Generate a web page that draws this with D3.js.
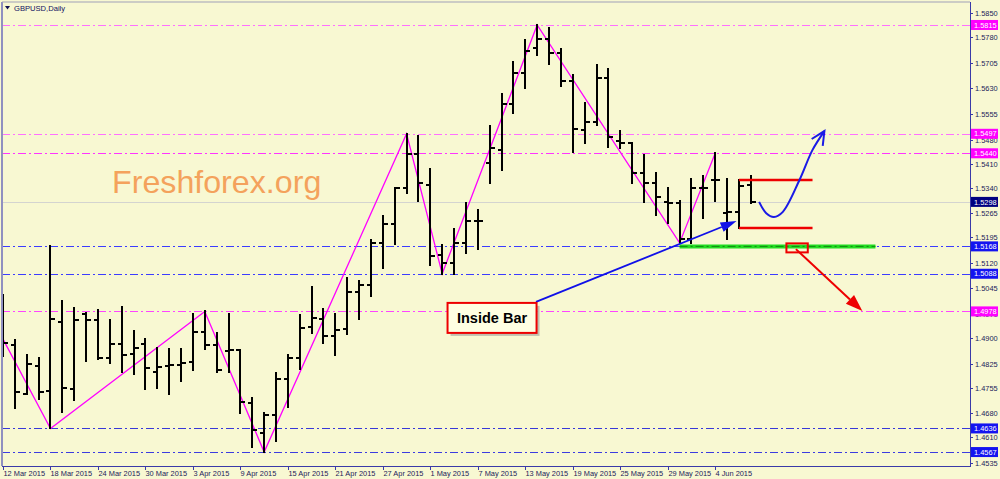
<!DOCTYPE html>
<html><head><meta charset="utf-8">
<script src="https://cdn.jsdelivr.net/npm/d3@7"></script>
<style>body{margin:0;background:#F8F8D2;} svg{display:block}</style>
</head><body><svg id="c" width="1000" height="479"></svg>
<script>
const symbolTitle = "GBPUSD,Daily";
const dates = ["2015-03-12","2015-03-13","2015-03-16","2015-03-17","2015-03-18","2015-03-19","2015-03-20","2015-03-23","2015-03-24","2015-03-25","2015-03-26","2015-03-27","2015-03-30","2015-03-31",
"2015-04-01","2015-04-02","2015-04-03","2015-04-06","2015-04-07","2015-04-08","2015-04-09","2015-04-10","2015-04-13","2015-04-14","2015-04-15","2015-04-16","2015-04-17","2015-04-20","2015-04-21","2015-04-22","2015-04-23","2015-04-24","2015-04-27","2015-04-28","2015-04-29","2015-04-30",
"2015-05-01","2015-05-04","2015-05-05","2015-05-06","2015-05-07","2015-05-08","2015-05-11","2015-05-12","2015-05-13","2015-05-14","2015-05-15","2015-05-18","2015-05-19","2015-05-20","2015-05-21","2015-05-22","2015-05-25","2015-05-26","2015-05-27","2015-05-28","2015-05-29",
"2015-06-01","2015-06-02","2015-06-03","2015-06-04","2015-06-05","2015-06-08","2015-06-09"];
const open  = [1.4930,1.4880,1.4737,1.4818,1.4745,1.4947,1.4751,1.4970,1.4953,1.4842,1.4883,1.4853,1.4883,1.4801,1.4818,1.4821,1.4830,1.4918,1.4880,1.4862,1.4865,1.4710,1.4623,1.4675,1.4780,1.4842,1.4932,1.4956,1.4906,1.4927,1.5035,1.5055,1.5178,1.5233,1.5339,1.5438,1.5347,1.5143,1.5119,1.5178,1.5242,1.5412,1.5450,1.5584,1.5675,1.5748,1.5774,1.5733,1.5651,1.5508,1.5531,1.5660,1.5476,1.5470,1.5382,1.5353,1.5298,1.5295,1.5190,1.5339,1.5362,1.5266,1.5268,1.5347];
const high  = [1.5026,1.4894,1.4851,1.4842,1.5169,1.5008,1.4988,1.4973,1.4982,1.4953,1.4991,1.4921,1.4897,1.4871,1.4868,1.4868,1.4970,1.4978,1.4915,1.4970,1.4865,1.4725,1.4681,1.4798,1.4851,1.4967,1.5049,1.4985,1.4970,1.5076,1.5067,1.5187,1.5257,1.5339,1.5497,1.5491,1.5394,1.5172,1.5219,1.5295,1.5274,1.5520,1.5613,1.5707,1.5771,1.5815,1.5806,1.5745,1.5669,1.5587,1.5698,1.5686,1.5505,1.5470,1.5435,1.5382,1.5339,1.5301,1.5365,1.5374,1.5440,1.5365,1.5362,1.5374];
const low   = [1.4848,1.4696,1.4737,1.4722,1.4636,1.4684,1.4719,1.4833,1.4839,1.4827,1.4801,1.4795,1.4751,1.4754,1.4737,1.4775,1.4807,1.4868,1.4801,1.4801,1.4681,1.4582,1.4567,1.4599,1.4699,1.4810,1.4915,1.4886,1.4851,1.4912,1.4956,1.5023,1.5105,1.5175,1.5324,1.5301,1.5114,1.5088,1.5087,1.5149,1.5160,1.5353,1.5391,1.5558,1.5631,1.5727,1.5701,1.5637,1.5444,1.5470,1.5523,1.5458,1.5455,1.5353,1.5298,1.5260,1.5236,1.5178,1.5178,1.5251,1.5301,1.5190,1.5222,1.5295];
const close = [1.4886,1.4742,1.4824,1.4742,1.4956,1.4754,1.4953,1.4953,1.4842,1.4883,1.4851,1.4871,1.4813,1.4816,1.4821,1.4827,1.4918,1.4880,1.4807,1.4865,1.4713,1.4631,1.4675,1.4780,1.4842,1.4929,1.4959,1.4906,1.4924,1.5035,1.5055,1.5178,1.5233,1.5339,1.5438,1.5353,1.5140,1.5119,1.5178,1.5242,1.5242,1.5455,1.5584,1.5675,1.5739,1.5774,1.5733,1.5651,1.5511,1.5531,1.5660,1.5488,1.5470,1.5382,1.5353,1.5312,1.5295,1.5190,1.5339,1.5339,1.5362,1.5268,1.5344,1.5298];
const yTicks = [1.5850,1.5780,1.5705,1.5630,1.5555,1.5480,1.5410,1.5340,1.5265,1.5195,1.5120,1.5045,1.4970,1.4900,1.4825,1.4755,1.4680,1.4610,1.4535];
const xTickIndex = [0,4,8,12,16,20,24,28,32,36,40,44,48,52,56,60];
const magentaLevels = [1.5815,1.5497,1.5440,1.4978];
const magentaColors = ["#FF70FF","#FF70FF","#FF33FF","#FF44FF"];
const blueLevels = [1.5168,1.5088,1.4636,1.4567];
const blueColors = ["#3C3CFF","#3C3CFF","#3838D8","#3C3CE0"];
const lastPrice = 1.5298;
const zigzagIndex = [0,4,17,22,34,37,45,57,60];
const zigzagPrice = [1.4897,1.4636,1.4978,1.4567,1.5497,1.5088,1.5815,1.5178,1.5440];
const watermark = "Freshforex.org";
const calloutText = "Inside Bar";

const svg = d3.select("#c");
const L = 2, R = 970, T = 2, B = 466;
const x = d3.scaleLinear().domain([0, 80]).range([3, 3 + 80 * 11.87]);
const y = d3.scaleLinear().domain([1.4535, 1.5850]).range([463, 13]);
const fmt = d3.timeFormat("%-d %b %Y");
const parse = d3.timeParse("%Y-%m-%d");

svg.append("rect").attr("width",1000).attr("height",479).attr("fill","#F8F8D2");
svg.append("defs").append("clipPath").attr("id","plot").append("rect")
  .attr("x",L).attr("y",T).attr("width",R-L).attr("height",B-T);
const g = svg.append("g").attr("clip-path","url(#plot)");

g.append("text").attr("x",112).attr("y",193).attr("font-family","Liberation Sans, Arial, sans-serif")
  .attr("font-size",32.2).attr("fill","#F4A25C").text(watermark);

g.append("line").attr("x1",L).attr("x2",R).attr("y1",Math.round(y(lastPrice))+0.5).attr("y2",Math.round(y(lastPrice))+0.5)
  .attr("stroke","#D4D4D0").attr("stroke-width",1);

const dash = "8,3,2,3";
function level(v, color){
  const yy = Math.round(y(v))+0.5;
  g.append("line").attr("x1",L).attr("x2",R).attr("y1",yy).attr("y2",yy)
   .attr("stroke",color).attr("stroke-width",1.2).attr("stroke-dasharray",dash);
}
magentaLevels.forEach((v,k)=>level(v, magentaColors[k]));
blueLevels.forEach((v,k)=>level(v, blueColors[k]));

const greenY = y(blueLevels[0]);
g.append("line").attr("x1",x(57)).attr("x2",x(73.5)).attr("y1",greenY).attr("y2",greenY)
  .attr("stroke","#22DD22").attr("stroke-width",4);
g.append("line").attr("x1",x(57)).attr("x2",x(73.5)).attr("y1",greenY).attr("y2",greenY)
  .attr("stroke","#118811").attr("stroke-width",1).attr("stroke-dasharray",dash);

const zz = zigzagIndex.map((d,k)=>[x(d), y(zigzagPrice[k])]);
g.append("path").attr("d", d3.line()(zz)).attr("fill","none").attr("stroke","#FF00FF").attr("stroke-width",1.3);

const bars = g.append("g").attr("stroke","#000").attr("shape-rendering","crispEdges");
dates.forEach((d,i)=>{
  const cx = Math.round(x(i));
  bars.append("line").attr("x1",cx).attr("x2",cx).attr("y1",y(high[i])-1).attr("y2",y(low[i])+1).attr("stroke-width",2);
  bars.append("line").attr("x1",cx-4).attr("x2",cx).attr("y1",Math.round(y(open[i]))).attr("y2",Math.round(y(open[i]))).attr("stroke-width",2);
  bars.append("line").attr("x1",cx).attr("x2",cx+5).attr("y1",Math.round(y(close[i]))).attr("y2",Math.round(y(close[i]))).attr("stroke-width",2);
});

[high[62], low[62]].forEach(v=>{
  g.append("line").attr("x1",x(62)).attr("x2",x(68.2)).attr("y1",y(v)).attr("y2",y(v))
   .attr("stroke","#EE0000").attr("stroke-width",2.5);
});

function arrowHead(sel, x1, y1, x2, y2, color, len, wid){
  const a = Math.atan2(y2-y1, x2-x1);
  const bx = x2 - len*Math.cos(a), by = y2 - len*Math.sin(a);
  const px = -Math.sin(a)*wid/2, py = Math.cos(a)*wid/2;
  sel.append("path").attr("d",`M${x2},${y2}L${bx+px},${by+py}L${bx-px},${by-py}Z`).attr("fill",color);
  return [bx, by];
}

g.append("rect").attr("x",x(66)).attr("y",y(blueLevels[0])-3).attr("width",x(67.8)-x(66)).attr("height",9)
  .attr("fill","none").attr("stroke","#EE0000").attr("stroke-width",2);
{
  const x1=x(66.8), y1=y(1.5160), x2=x(72.4), y2=y(1.4979);
  const [bx,by] = arrowHead(g, x1,y1,x2,y2,"#EE0000",17,12);
  g.append("line").attr("x1",x1).attr("y1",y1).attr("x2",bx).attr("y2",by).attr("stroke","#EE0000").attr("stroke-width",2);
}

const curveIdx = [63.7,64.3,64.95,65.7,67.1,68.2,69.2];
const curvePrice = [1.5298,1.5265,1.5254,1.5269,1.5362,1.5450,1.5505];
const cpts = curveIdx.map((d,k)=>[x(d), y(curvePrice[k])]);
g.append("path").attr("d", d3.line().curve(d3.curveCatmullRom)(cpts)).attr("fill","none")
  .attr("stroke","#1A1AE6").attr("stroke-width",2);
{
  const tip = cpts[cpts.length-1], prev = cpts[cpts.length-2];
  const a = Math.atan2(tip[1]-prev[1], tip[0]-prev[0]);
  const l = 15, sp = 0.45;
  const w1 = [tip[0]-l*Math.cos(a-sp), tip[1]-l*Math.sin(a-sp)];
  const w2 = [tip[0]-l*Math.cos(a+sp), tip[1]-l*Math.sin(a+sp)];
  g.append("path").attr("d",`M${w1[0]},${w1[1]}L${tip[0]},${tip[1]}L${w2[0]},${w2[1]}`)
   .attr("fill","none").attr("stroke","#1A1AE6").attr("stroke-width",2).attr("stroke-linejoin","miter");
}

{
  const x1=x(44.9), y1=y(1.5006), x2=x(61.8), y2=y(1.5242);
  const [bx,by] = arrowHead(g, x1,y1,x2,y2,"#1010E8",16,10);
  g.append("line").attr("x1",x1).attr("y1",y1).attr("x2",bx).attr("y2",by).attr("stroke","#1010E8").attr("stroke-width",1.8);
}

{
  const cx = x(41.2), cy = y(1.4959);
  const w = 89, h = 30;
  g.append("rect").attr("x",cx-w/2+3).attr("y",cy-h/2+3).attr("width",w).attr("height",h).attr("fill","#A8A8A0").attr("opacity",0.7);
  g.append("rect").attr("x",cx-w/2).attr("y",cy-h/2).attr("width",w).attr("height",h).attr("fill","#FFFFE2")
    .attr("stroke","#EE0000").attr("stroke-width",2);
  g.append("text").attr("x",cx).attr("y",cy+5).attr("text-anchor","middle").attr("font-family","Liberation Sans, Arial, sans-serif")
    .attr("font-weight","bold").attr("font-size",14.5).attr("fill","#000").text(calloutText);
}

svg.append("line").attr("x1",L).attr("x2",L).attr("y1",T).attr("y2",B).attr("stroke","#9090C0").attr("stroke-width",2);
svg.append("line").attr("x1",L).attr("x2",R).attr("y1",T).attr("y2",T).attr("stroke","#A0A0B8").attr("stroke-width",1);
svg.append("line").attr("x1",R+0.5).attr("x2",R+0.5).attr("y1",T).attr("y2",B+1).attr("stroke","#3A3AA8").attr("stroke-width",1);
svg.append("line").attr("x1",L).attr("x2",R).attr("y1",B+0.5).attr("y2",B+0.5).attr("stroke","#3A3AA8").attr("stroke-width",1);

const axisFont = "Liberation Sans, Arial, sans-serif";
yTicks.forEach(v=>{
  const yy = Math.round(y(v))+0.5;
  svg.append("line").attr("x1",R).attr("x2",R+3).attr("y1",yy).attr("y2",yy).attr("stroke","#3A3AA8");
  svg.append("text").attr("x",975).attr("y",yy+2.6).attr("font-family",axisFont).attr("font-size",7.4)
    .attr("fill","#1A1A5A").text(d3.format(".4f")(v));
});
function levelLabel(v, bg){
  const yy = y(v);
  svg.append("rect").attr("x",971).attr("y",yy-5).attr("width",27).attr("height",10).attr("fill",bg);
  svg.append("text").attr("x",974).attr("y",yy+2.7).attr("font-family",axisFont).attr("font-size",7.4)
    .attr("fill","#FFFFFF").text(d3.format(".4f")(v));
}
magentaLevels.forEach(v=>levelLabel(v,"#FF00FF"));
blueLevels.forEach(v=>levelLabel(v,"#1414F0"));
levelLabel(lastPrice,"#000080");

xTickIndex.forEach(i=>{
  const xx = Math.round(x(i))+0.5;
  svg.append("line").attr("x1",xx).attr("x2",xx).attr("y1",B).attr("y2",B+4).attr("stroke","#3A3AA8");
  svg.append("text").attr("x",xx).attr("y",476).attr("font-family",axisFont).attr("font-size",7.4)
    .attr("fill","#1A1A5A").text(fmt(parse(dates[i])));
});

svg.append("path").attr("d","M5,6L10,6L7.5,9.5Z").attr("fill","#101050");
svg.append("text").attr("x",14).attr("y",11).attr("font-family",axisFont).attr("font-size",7.6)
  .attr("fill","#101060").text(symbolTitle);
</script></body></html>
